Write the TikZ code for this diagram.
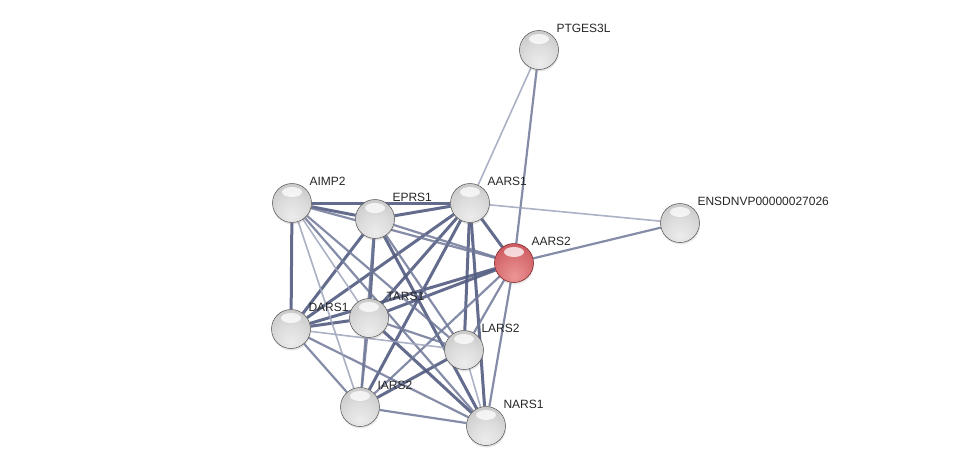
\documentclass[tikz,border=0pt]{standalone}
\usepackage{fontspec}
\setmainfont{Liberation Sans}
\usetikzlibrary{backgrounds, shadows}
\definecolor{edgedark}{RGB}{82,92,128}
\definecolor{edgemid}{RGB}{112,120,152}
\definecolor{edgelight}{RGB}{158,164,188}
\definecolor{greylight}{RGB}{236,236,236}
\definecolor{greymid}{RGB}{200,200,200}
\definecolor{greydeep}{RGB}{165,165,165}
\definecolor{greyrim}{RGB}{100,100,100}
\definecolor{redlight}{RGB}{236,150,150}
\definecolor{redmid}{RGB}{204,88,94}
\definecolor{reddeep}{RGB}{170,60,66}
\definecolor{redrim}{RGB}{115,28,32}
\pgfdeclareradialshading{greyball}{\pgfpoint{0bp}{-18bp}}{color(0bp)=(greylight); color(18bp)=(greylight!60!greymid); color(36bp)=(greymid); color(52bp)=(greydeep); color(62bp)=(greyrim); color(75bp)=(greyrim)}
\pgfdeclareradialshading{redball}{\pgfpoint{0bp}{-18bp}}{color(0bp)=(redlight); color(18bp)=(redlight!50!redmid); color(36bp)=(redmid); color(52bp)=(reddeep); color(62bp)=(redrim); color(75bp)=(redrim)}
\tikzstyle{protein} = [circle, minimum size=39pt, inner sep=0pt, draw=greyrim!80!black, line width=0.5pt, shading=greyball,
  drop shadow={opacity=0.2, shadow xshift=0.5pt, shadow yshift=-2pt},
  path picture={\fill[white, opacity=0.75] ([yshift=11pt]path picture bounding box.center) ellipse (10 and 5);}]
\tikzstyle{query} = [protein, shading=redball, draw=redrim]
\tikzstyle{strong} = [line width=3pt, draw=edgedark, opacity=0.9]
\tikzstyle{medium} = [line width=2.2pt, draw=edgemid, opacity=0.85]
\tikzstyle{weak} = [line width=1.6pt, draw=edgelight, opacity=0.85]

\begin{document}
\begin{tikzpicture}[x=1pt, y=-1pt, every label/.style={font=\fontsize{12}{14}\selectfont, text=black!85}]
\useasboundingbox (0,0) rectangle (975,471);

% Nodes
\node (ptges) [protein, label=45:PTGES3L] at (539,50) {};
\node (aimp2) [protein, label=45:AIMP2] at (292,203) {};
\node (eprs1) [protein, label=45:EPRS1] at (375,219) {};
\node (aars1) [protein, label=45:AARS1] at (470,203) {};
\node (ensdn) [protein, label=45:ENSDNVP00000027026] at (680,223) {};
\node (aars2) [query, label=45:AARS2] at (514,263) {};
\node (dars1) [protein, label=45:DARS1] at (291,329) {};
\node (tars1) [protein, label=45:TARS1] at (369,318) {};
\node (lars2) [protein, label=45:LARS2] at (464,350) {};
\node (iars2) [protein, label=45:IARS2] at (360,407) {};
\node (nars1) [protein, label=45:NARS1] at (486,426) {};

% Edges
\begin{pgfonlayer}{background}
\foreach \a/\b in {aimp2/dars1, aimp2/eprs1, aimp2/aars1, eprs1/aars1, eprs1/tars1,
  eprs1/dars1, aars1/aars2, aars1/lars2, aars1/nars1, aars1/dars1, aars1/tars1,
  aars1/iars2, aars2/tars1, aars2/dars1, tars1/nars1, dars1/tars1, eprs1/nars1,
  iars2/lars2}
  \draw [strong] (\a) -- (\b);
\foreach \a/\b in {aimp2/aars2, aimp2/lars2, aimp2/nars1, eprs1/aars2, eprs1/lars2,
  eprs1/iars2, aars2/lars2, aars2/iars2, aars2/nars1, dars1/iars2, dars1/nars1,
  tars1/lars2, tars1/iars2, iars2/nars1, ptges/aars2, ensdn/aars2}
  \draw [medium] (\a) -- (\b);
\foreach \a/\b in {aimp2/tars1, aimp2/iars2, dars1/lars2, lars2/nars1,
  ptges/aars1, ensdn/aars1}
  \draw [weak] (\a) -- (\b);
\end{pgfonlayer}

\end{tikzpicture}
\end{document}
